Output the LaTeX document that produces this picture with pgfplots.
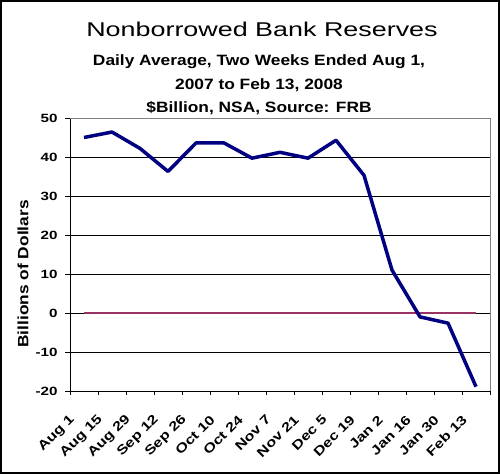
\documentclass[border=0pt]{standalone}
\usepackage{fontspec}
\usepackage{graphicx}
\usepackage{pgfplots}
\pgfplotsset{compat=1.18}
\setmainfont{Liberation Sans}
\newfontfamily\titlefont{Liberation Sans}[FakeStretch=1.35]
\newfontfamily\subfont{Liberation Sans}[FakeStretch=1.16]
\newfontfamily\tickfont{Liberation Sans}[FakeStretch=1.27]
\newfontfamily\xtfont{Liberation Sans}[FakeStretch=1.25]
\newfontfamily\ylabfont{Liberation Sans}[FakeStretch=1.16]
\definecolor{navyline}{HTML}{000080}
\definecolor{plum}{HTML}{993366}
\begin{document}
\begin{tikzpicture}[x=1bp,y=1bp]
\useasboundingbox (0,0) rectangle (500,474);
\draw[line width=2bp,black] (1,1) rectangle (499,473);
\node[anchor=base,font=\titlefont\fontsize{20}{24}\selectfont] at (262,437) {Nonborrowed Bank Reserves};
\node[anchor=base,font=\subfont\bfseries\fontsize{15}{18}\selectfont] at (259,408) {Daily Average, Two Weeks Ended Aug 1,};
\node[anchor=base,font=\subfont\bfseries\fontsize{15}{18}\selectfont] at (259,384.7) {2007 to Feb 13, 2008};
\node[anchor=base,font=\subfont\bfseries\fontsize{15}{18}\selectfont] at (259,361.3) {\$Billion, NSA, Source: FRB};
\begin{axis}[
  at={(70bp,83bp)}, anchor=south west,
  scale only axis, width=420bp, height=273bp,
  xmin=-0.5, xmax=14.5, ymin=-20, ymax=50,
  axis x line*=bottom, axis y line*=left,
  axis line style={black, line width=0.9bp, -},
  ytick={-20,-10,0,10,20,30,40,50},
  xtick={0,...,14},
  xticklabels={Aug 1,Aug 15,Aug 29,Sep 12,Sep 26,Oct 10,Oct 24,Nov 7,Nov 21,Dec 5,Dec 19,Jan 2,Jan 16,Jan 30,Feb 13},
  minor xtick={-0.5,0.5,...,14.5},
  major x tick style={draw=none},
  minor x tick style={black, line width=0.9bp},
  y tick style={black, line width=0.9bp},
  tick align=outside,
  major tick length=5bp, minor tick length=4bp,
  ymajorgrids, major grid style={black, line width=0.9bp},
  /pgf/number format/assume math mode=true,
  yticklabel style={font=\tickfont\bfseries\fontsize{12}{14}\selectfont, xshift=-4bp},
  xticklabel style={font=\xtfont\bfseries\fontsize{13}{15}\selectfont, xshift=-9bp, yshift=-19bp, rotate=45, anchor=east},
  ylabel={Billions of Dollars},
  ylabel style={font=\ylabfont\bfseries\fontsize{15}{18}\selectfont, at={(axis description cs:-0.112,0.4286)}, anchor=center},
  clip=false,
]
\addplot[plum, line width=2.2bp] coordinates {(0,0) (14,0)};
\addplot[navyline, line width=3.5bp, line join=round] coordinates {
(0,45.0) (1,46.4) (2,42.2) (3,36.3) (4,43.6) (5,43.6) (6,39.7) (7,41.2) (8,39.7) (9,44.3) (10,35.3) (11,11.0) (12,-1.0) (13,-2.6) (14,-18.9)
};
\draw[gray, line width=0.9bp] (rel axis cs:0,1) -- (rel axis cs:1,1) -- (rel axis cs:1,0);
\end{axis}
\end{tikzpicture}
\end{document}
